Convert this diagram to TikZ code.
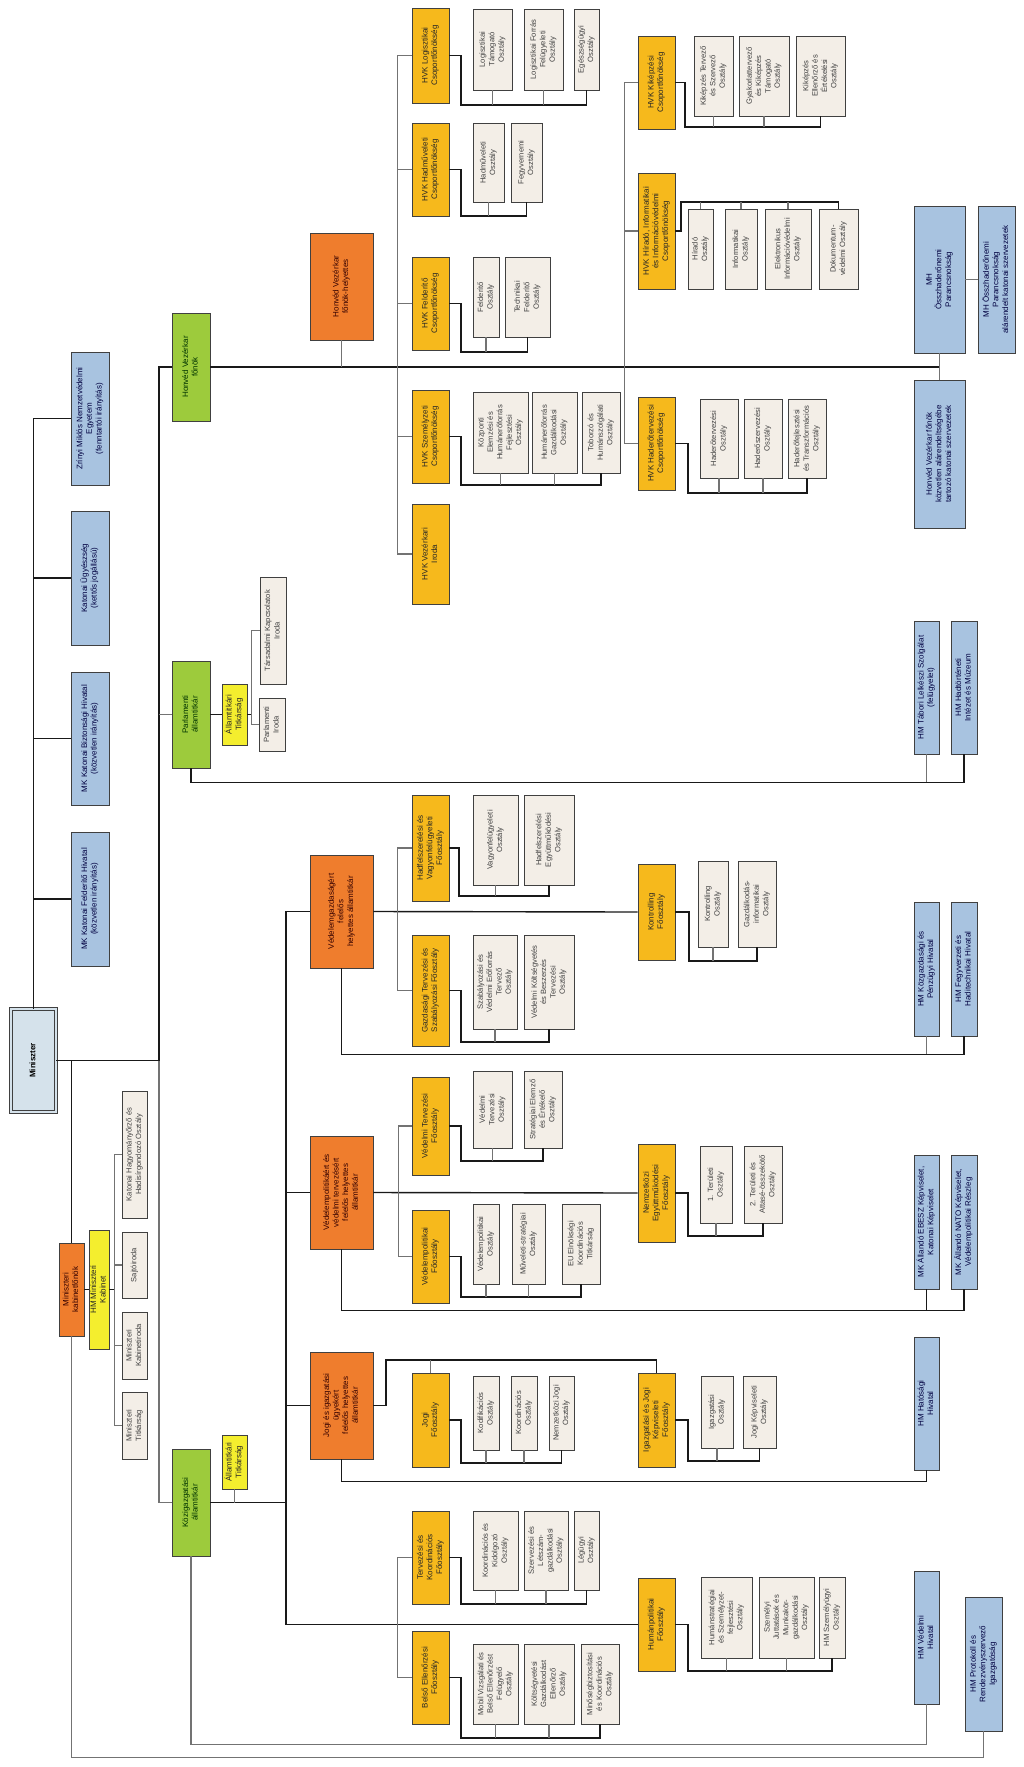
\documentclass[tikz,border=0pt]{standalone}
\usepackage{fontspec}
\setmainfont{Liberation Sans}

\definecolor{osztfill}{HTML}{F3EEE7}
\definecolor{fofill}{HTML}{F6B91C}
\definecolor{helyfill}{HTML}{EF7D2D}
\definecolor{kulsofill}{HTML}{A8C3E0}
\definecolor{atfill}{HTML}{9DCB3C}
\definecolor{titkfill}{HTML}{F4EE2E}
\definecolor{minfill}{HTML}{D5E2EB}

% text of a box, turned to read bottom-up
\newcommand{\rt}[1]{\rotatebox{90}{\begin{tabular}{@{}c@{}}#1\end{tabular}}}

\begin{document}
\begin{tikzpicture}[
  x=1pt, y=-1pt,
  font=\fontsize{8}{9.6}\selectfont,
  % box from its two corners (left,top) (right,bottom)
  spot/.style n args={4}{at={({(#1+#3)/2},{(#2+#4)/2})}, minimum width={(#3-#1)*1pt}, minimum height={(#4-#2)*1pt}},
  unit/.style={draw=black!75, line width=0.9pt, inner sep=0pt},
  oszt/.style={unit, fill=osztfill, text=black!75, font=\fontsize{7.6}{9.4}\selectfont},
  fooszt/.style={unit, fill=fofill, text=black!85},
  helyettes/.style={unit, fill=helyfill, text=black!80!red},
  kulso/.style={unit, fill=kulsofill, text=blue!25!black},
  allamtitk/.style={unit, fill=atfill, text=green!20!black},
  titk/.style={unit, fill=titkfill, text=black!85},
  minbox/.style={unit, fill=minfill, double=minfill, double distance=2.5pt},
  main/.style={line width=1.4pt, black!90},
  link/.style={line width=1.1pt, black!55}
]
\fill[white] (0,0) rectangle (1024,1767);
\useasboundingbox (0,0) rectangle (1024,1767);

%% miniszter and the left column
\node[minbox, spot={11}{1009}{56}{1112}] (min) {\rt{\textbf{Miniszter}}};
\node[kulso, spot={71}{352}{109}{485}] (zme) {\rt{Zrínyi Miklós Nemzetvédelmi\\Egyetem\\(fenntartói irányítás)}};
\node[kulso, spot={71}{511}{109}{645}] (kug) {\rt{Katonai Ügyészség\\(kettős jogállású)}};
\node[kulso, spot={71}{672}{109}{805}] (kbh) {\rt{MK Katonai Biztonsági Hivatal\\(közvetlen irányítás)}};
\node[kulso, spot={71}{832}{109}{966}] (kfh) {\rt{MK Katonai Felderítő Hivatal\\(közvetlen irányítás)}};
\node[helyettes, spot={59}{1243}{84}{1336}] (kab) {\rt{Miniszteri\\kabinetfőnök}};
\node[titk, spot={89}{1230}{109}{1349}] (kabt) {\rt{HM Miniszteri\\Kabinet}};
\node[oszt, spot={122}{1091}{147}{1218}] (hagy) {\rt{Katonai Hagyományőrző és\\Hadisírgondozó Osztály}};
\node[oszt, spot={122}{1232}{147}{1298}] (sajto) {\rt{Sajtóiroda}};
\node[oszt, spot={122}{1312}{147}{1379}] (kiroda) {\rt{Miniszteri\\Kabinetiroda}};
\node[oszt, spot={122}{1392}{147}{1459}] (mtitk) {\rt{Miniszteri\\Titkárság}};

%% államtitkárok
\node[allamtitk, spot={172}{313}{210}{421}] (hvkf) {\rt{Honvéd Vezérkar\\főnök}};
\node[allamtitk, spot={172}{661}{210}{768}] (parl) {\rt{Parlamenti\\államtitkár}};
\node[allamtitk, spot={172}{1449}{210}{1556}] (kozig) {\rt{Közigazgatási\\államtitkár}};
\node[titk, spot={222}{684}{247}{745}] (ptitk) {\rt{Államtitkári\\Titkárság}};
\node[titk, spot={222}{1435}{247}{1489}] (ktitk) {\rt{Államtitkári\\Titkárság}};
\node[oszt, spot={260}{577}{286}{684}] (tarsk) {\rt{Társadalmi Kapcsolatok\\Iroda}};
\node[oszt, spot={259}{698}{285}{751}] (pirod) {\rt{Parlamenti\\Iroda}};

%% helyettesek
\node[helyettes, spot={310}{233}{373}{340}] (fhely) {\rt{Honvéd Vezérkar\\főnök-helyettes}};
\node[helyettes, spot={310}{855}{373}{968}] (vg) {\rt{Védelemgazdaságért\\felelős\\helyettes államtitkár}};
\node[helyettes, spot={310}{1136}{373}{1249}] (vp) {\rt{Védelempolitikáért és\\védelmi tervezésért\\felelős helyettes\\államtitkár}};
\node[helyettes, spot={310}{1352}{373}{1459}] (jog) {\rt{Jogi és igazgatási\\ügyekért\\felelős helyettes\\államtitkár}};

%% HVK csoportfőnökségek
\node[fooszt, spot={412}{8}{449}{103}] (hvklog) {\rt{HVK Logisztikai\\Csoportfőnökség}};
\node[fooszt, spot={412}{123}{449}{216}] (hvkhad) {\rt{HVK Hadműveleti\\Csoportfőnökség}};
\node[fooszt, spot={412}{257}{449}{350}] (hvkfel) {\rt{HVK Felderítő\\Csoportfőnökség}};
\node[fooszt, spot={412}{390}{449}{483}] (hvkszem) {\rt{HVK Személyzeti\\Csoportfőnökség}};
\node[fooszt, spot={412}{504}{449}{604}] (hvkiroda) {\rt{HVK Vezérkari\\Iroda}};
\node[fooszt, spot={638}{36}{675}{129}] (hvkkik) {\rt{HVK Kiképzési\\Csoportfőnökség}};
\node[fooszt, spot={638}{173}{675}{289}] (hvkhir) {\rt{HVK Híradó, Informatikai\\és Információvédelmi\\Csoportfőnökség}};
\node[fooszt, spot={638}{397}{675}{490}] (hvkhdt) {\rt{HVK Haderőtervezési\\Csoportfőnökség}};

%% HVK osztályok
\node[oszt, spot={473}{9}{512}{90}] (lt) {\rt{Logisztikai\\Támogató\\Osztály}};
\node[oszt, spot={524}{9}{563}{90}] (lf) {\rt{Logisztikai Forrás\\Felügyeleti\\Osztály}};
\node[oszt, spot={574}{9}{599}{90}] (egu) {\rt{Egészségügyi\\Osztály}};
\node[oszt, spot={473}{123}{504}{202}] (hmo) {\rt{Hadműveleti\\Osztály}};
\node[oszt, spot={511}{123}{542}{202}] (fno) {\rt{Fegyvernemi\\Osztály}};
\node[oszt, spot={473}{257}{499}{337}] (fo) {\rt{Felderítő\\Osztály}};
\node[oszt, spot={505}{257}{550}{337}] (tfo) {\rt{Technikai\\Felderítő\\Osztály}};
\node[oszt, spot={473}{392}{528}{473}] (keho) {\rt{Központi\\Elemzési és\\Humánerőforrás\\Fejlesztési\\Osztály}};
\node[oszt, spot={532}{392}{577}{473}] (hgo) {\rt{Humánerőforrás\\Gazdálkodási\\Osztály}};
\node[oszt, spot={582}{392}{620}{473}] (tho) {\rt{Toborzó és\\Humánszolgálati\\Osztály}};
\node[oszt, spot={694}{36}{733}{116}] (kto) {\rt{Kiképzés Tervező\\és Szervező\\Osztály}};
\node[oszt, spot={739}{36}{789}{116}] (gyo) {\rt{Gyakorlattervező\\és Kiképzés\\Támogató\\Osztály}};
\node[oszt, spot={796}{36}{845}{116}] (keo) {\rt{Kiképzés\\Ellenőrző és\\Értékelési\\Osztály}};
\node[oszt, spot={688}{209}{713}{289}] (hio) {\rt{Híradó\\Osztály}};
\node[oszt, spot={725}{209}{757}{289}] (info) {\rt{Informatikai\\Osztály}};
\node[oszt, spot={765}{209}{811}{289}] (evo) {\rt{Elektronikus\\Információvédelmi\\Osztály}};
\node[oszt, spot={819}{209}{858}{289}] (dvo) {\rt{Dokumentum-\\védelmi Osztály}};
\node[oszt, spot={700}{399}{738}{478}] (hto) {\rt{Haderőtervezési\\Osztály}};
\node[oszt, spot={744}{399}{782}{478}] (hso) {\rt{Haderőszervezési\\Osztály}};
\node[oszt, spot={788}{399}{826}{478}] (hfo) {\rt{Haderőfejlesztési\\és Transzformációs\\Osztály}};

%% minisztériumi főosztályok
\node[fooszt, spot={412}{795}{449}{901}] (hadf) {\rt{Hadfelszerelési és\\Vagyonfelügyeleti\\Főosztály}};
\node[fooszt, spot={412}{935}{449}{1046}] (gazd) {\rt{Gazdasági Tervezési és\\Szabályozási Főosztály}};
\node[fooszt, spot={412}{1077}{449}{1175}] (vtf) {\rt{Védelmi Tervezési\\Főosztály}};
\node[fooszt, spot={412}{1210}{449}{1303}] (vpf) {\rt{Védelempolitikai\\Főosztály}};
\node[fooszt, spot={412}{1373}{449}{1467}] (jf) {\rt{Jogi\\Főosztály}};
\node[fooszt, spot={412}{1511}{449}{1604}] (tkf) {\rt{Tervezési és\\Koordinációs\\Főosztály}};
\node[fooszt, spot={412}{1631}{449}{1724}] (bef) {\rt{Belső Ellenőrzési\\Főosztály}};
\node[fooszt, spot={638}{864}{675}{960}] (kontr) {\rt{Kontrolling\\Főosztály}};
\node[fooszt, spot={638}{1144}{675}{1242}] (nemz) {\rt{Nemzetközi\\Együttműködési\\Főosztály}};
\node[fooszt, spot={638}{1373}{675}{1467}] (igf) {\rt{Igazgatási és Jogi\\Képviseleti\\Főosztály}};
\node[fooszt, spot={638}{1578}{675}{1671}] (human) {\rt{Humánpolitikai\\Főosztály}};

%% minisztériumi osztályok
\node[oszt, spot={473}{795}{518}{885}] (vfo) {\rt{Vagyonfelügyeleti\\Osztály}};
\node[oszt, spot={524}{795}{574}{885}] (heo) {\rt{Hadfelszerelési\\Együttműködési\\Osztály}};
\node[oszt, spot={473}{935}{517}{1029}] (sveo) {\rt{Szabályozási és\\Védelmi Erőforrás\\Tervező\\Osztály}};
\node[oszt, spot={524}{935}{574}{1029}] (vkbo) {\rt{Védelmi Költségvetés\\és Beszerzés\\Tervezési\\Osztály}};
\node[oszt, spot={698}{861}{728}{947}] (ko) {\rt{Kontrolling\\Osztály}};
\node[oszt, spot={738}{861}{776}{947}] (gio) {\rt{Gazdálkodás-\\informatikai\\Osztály}};
\node[oszt, spot={473}{1071}{512}{1148}] (vto) {\rt{Védelmi\\Tervezési\\Osztály}};
\node[oszt, spot={524}{1071}{562}{1148}] (seo) {\rt{Stratégiai Elemző\\és Értékelő\\Osztály}};
\node[oszt, spot={473}{1204}{499}{1284}] (vpo) {\rt{Védelempolitikai\\Osztály}};
\node[oszt, spot={512}{1204}{545}{1284}] (mso) {\rt{Műveleti-stratégiai\\Osztály}};
\node[oszt, spot={562}{1204}{600}{1284}] (eut) {\rt{EU Elnökségi\\Koordinációs\\Titkárság}};
\node[oszt, spot={700}{1146}{732}{1223}] (t1o) {\rt{1. Területi\\Osztály}};
\node[oszt, spot={744}{1146}{782}{1223}] (t2o) {\rt{2. Területi és\\Attasé-összekötő\\Osztály}};
\node[oszt, spot={473}{1376}{499}{1450}] (kodo) {\rt{Kodifikációs\\Osztály}};
\node[oszt, spot={511}{1376}{537}{1450}] (kooro) {\rt{Koordinációs\\Osztály}};
\node[oszt, spot={549}{1376}{574}{1450}] (njo) {\rt{Nemzetközi Jogi\\Osztály}};
\node[oszt, spot={701}{1376}{733}{1448}] (igo) {\rt{Igazgatási\\Osztály}};
\node[oszt, spot={743}{1376}{776}{1448}] (jko) {\rt{Jogi Képviseleti\\Osztály}};
\node[oszt, spot={473}{1511}{518}{1590}] (kko) {\rt{Koordinációs és\\Kidolgozó\\Osztály}};
\node[oszt, spot={524}{1511}{568}{1590}] (szlo) {\rt{Szervezési és\\Létszám-\\gazdálkodási\\Osztály}};
\node[oszt, spot={574}{1511}{599}{1590}] (lego) {\rt{Légügyi\\Osztály}};
\node[oszt, spot={473}{1644}{518}{1724}] (mvo) {\rt{Mobil Vizsgálati és\\Belső Ellenőrzést\\Felügyelő\\Osztály}};
\node[oszt, spot={524}{1644}{574}{1724}] (kgeo) {\rt{Költségvetési\\Gazdálkodást\\Ellenőrző\\Osztály}};
\node[oszt, spot={581}{1644}{619}{1724}] (mbo) {\rt{Minőségbiztosítási\\és Koordinációs\\Osztály}};
\node[oszt, spot={701}{1577}{752}{1658}] (hszo) {\rt{Humánstratégiai\\és Személyzet-\\fejlesztési\\Osztály}};
\node[oszt, spot={759}{1577}{814}{1658}] (szjo) {\rt{Személyi\\Juttatások és\\Munkakör-\\gazdálkodási\\Osztály}};
\node[oszt, spot={819}{1577}{845}{1658}] (hmszo) {\rt{HM Személyügyi\\Osztály}};

%% külső szervezetek
\node[kulso, spot={914}{206}{965}{353}] (mhop) {\rt{MH\\Összhaderőnemi\\Parancsnokság}};
\node[kulso, spot={978}{206}{1015}{353}] (mhal) {\rt{MH Összhaderőnemi\\Parancsnokság\\alárendelt katonai szervezetek}};
\node[kulso, spot={914}{380}{965}{528}] (kozv) {\rt{Honvéd Vezérkar főnök\\közvetlen alárendeltségébe\\tartozó katonai szervezetek}};
\node[kulso, spot={914}{621}{939}{754}] (tabori) {\rt{HM Tábori Lelkészi Szolgálat\\(felügyelet)}};
\node[kulso, spot={951}{621}{977}{754}] (hadt) {\rt{HM Hadtörténeti\\Intézet és Múzeum}};
\node[kulso, spot={914}{902}{939}{1036}] (kozg) {\rt{HM Közgazdasági és\\Pénzügyi Hivatal}};
\node[kulso, spot={951}{902}{977}{1036}] (fegyv) {\rt{HM Fegyverzeti és\\Haditechnikai Hivatal}};
\node[kulso, spot={914}{1155}{939}{1289}] (ebesz) {\rt{MK Állandó EBESZ Képviselet,\\Katonai Képviselet}};
\node[kulso, spot={951}{1155}{977}{1289}] (nato) {\rt{MK Állandó NATO Képviselet,\\Védelempolitikai Részleg}};
\node[kulso, spot={914}{1337}{939}{1470}] (hatosag) {\rt{HM Hatósági\\Hivatal}};
\node[kulso, spot={914}{1571}{939}{1704}] (vedhiv) {\rt{HM Védelmi\\Hivatal}};
\node[kulso, spot={965}{1597}{1002}{1731}] (prot) {\rt{HM Protokoll és\\Rendezvényszervező\\Igazgatóság}};

%% bus points
\coordinate (spine) at (159,1060.5);
\coordinate (vbus) at (286,1502.5);
\coordinate (jogbus) at (386,1360);
\coordinate (logbus) at (461,105);
\coordinate (hadbus) at (461,216);
\coordinate (felbus) at (461,352);
\coordinate (szembus) at (461,485);
\coordinate (kikbus) at (685,127);
\coordinate (hirbus) at (681,202);
\coordinate (hdtbus) at (688,493);
\coordinate (hadfbus) at (459,896);
\coordinate (gazdbus) at (461,1042);
\coordinate (kontrbus) at (689,961);
\coordinate (vtfbus) at (461,1161);
\coordinate (vpfbus) at (461,1297);
\coordinate (nemzbus) at (688,1236);
\coordinate (jfbus) at (461,1463);
\coordinate (igfbus) at (688,1461);
\coordinate (tkfbus) at (461,1604);
\coordinate (befbus) at (461,1738);
\coordinate (humbus) at (688,1671);

%% miniszter
\draw[main] (min.north) |- (zme.west);
\draw[main] (min.north |- kug.west) -- (kug.west);
\draw[main] (min.north |- kbh.west) -- (kbh.west);
\draw[main] (min.north |- kfh.west) -- (kfh.west);
\draw[main] (min.east) -- (spine);
\draw[main] (spine) |- (hvkf.west);
\draw[link] (spine) |- (kozig.west);
\draw[link] (spine |- parl.west) -- (parl.west);
\draw[main] (kab.north) -- (kab.north |- min.east);
\draw[main] (kab.east) -- (kabt.west);
\draw[main] (kabt.east) -- ++(6,0);
\draw[link] (hagy.west) -- ++(-7,0) |- (mtitk.west);
\draw[link] (sajto.west) -- ++(-7,0);
\draw[link] (kiroda.west) -- ++(-7,0);
\draw[link] (kab.south) -- ++(0,421) -| (prot.south);

%% parlamenti államtitkár
\draw[main] (parl.east) -- (ptitk.west);
\draw[main] (ptitk.east) -- ++(5,0);
\draw[link] (tarsk.west) -- ++(-8,0) |- (pirod.west);
\draw[main] (parl.south) -- ++(0,14) -| (hadt.south);
\draw[link] (tabori.south) -- ++(0,28);

%% honvéd vezérkar
\draw[main] (hvkf.east) -| (mhop.south);
\draw[link] (mhop.south) -- (kozv.north);
\draw[link] (mhop.east) -- (mhal.west);
\draw[link] (fhely.south) -- (fhely.south |- hvkf.east);
\draw[link] (hvklog.west) -- ++(-14,0) |- (hvkiroda.west);
\draw[link] (hvkhad.west) -- ++(-14,0);
\draw[link] (hvkfel.west) -- ++(-14,0);
\draw[link] (hvkszem.west) -- ++(-14,0);
\draw[link] (hvkkik.west) -- ++(-13,0) |- (hvkhdt.west);
\draw[link] (hvkhir.west) -- ++(-13,0);

\draw[main] (hvklog.east) -| (logbus) -| (egu.south);
\draw[link] (lt.south) -- (lt.south |- logbus);
\draw[link] (lf.south) -- (lf.south |- logbus);
\draw[main] (hvkhad.east) -| (hadbus) -| (fno.south);
\draw[link] (hmo.south) -- (hmo.south |- hadbus);
\draw[main] (hvkfel.east) -| (felbus) -| (tfo.south);
\draw[link] (fo.south) -- (fo.south |- felbus);
\draw[main] (hvkszem.east) -| (szembus) -| (tho.south);
\draw[link] (keho.south) -- (keho.south |- szembus);
\draw[link] (hgo.south) -- (hgo.south |- szembus);
\draw[main] (hvkkik.east) -| (kikbus) -| (keo.south);
\draw[link] (kto.south) -- (kto.south |- kikbus);
\draw[link] (gyo.south) -- (gyo.south |- kikbus);
\draw[main] (hvkhir.east) -| (hirbus) -| (dvo.north);
\draw[link] (hio.north) -- (hio.north |- hirbus);
\draw[link] (info.north) -- (info.north |- hirbus);
\draw[link] (evo.north) -- (evo.north |- hirbus);
\draw[main] (hvkhdt.east) -| (hdtbus) -| (hfo.south);
\draw[link] (hto.south) -- (hto.south |- hdtbus);
\draw[link] (hso.south) -- (hso.south |- hdtbus);

%% közigazgatási államtitkár
\draw[main] (kozig.east) -- (vbus);
\draw[link] (ktitk.south) -- (ktitk.south |- kozig.east);
\draw[main] (vg.west) -| (vbus) |- (human.west);
\draw[main] (vp.west) -- (vp.west -| vbus);
\draw[main] (jog.west) -- (jog.west -| vbus);
\draw[link] (kozig.south) -- ++(0,188) -| (vedhiv.south);
\draw[link] (tkf.west) -- ++(-14,0) |- (bef.west);

% védelemgazdaság
\draw[main] (vg.east) -- (kontr.west);
\draw[link] (hadf.west) -- ++(-14,0) |- (gazd.west);
\draw[main] (vg.south) -- ++(0,86) -| (fegyv.south);
\draw[link] (kozg.south) -- ++(0,18);
\draw[main] (hadf.east) -| (hadfbus) -| (heo.south);
\draw[link] (vfo.south) -- (vfo.south |- hadfbus);
\draw[main] (gazd.east) -| (gazdbus) -| (vkbo.south);
\draw[link] (sveo.south) -- (sveo.south |- gazdbus);
\draw[main] (kontr.east) -| (kontrbus) -| (gio.south);
\draw[link] (ko.south) -- (ko.south |- kontrbus);

% védelempolitika
\draw[main] (vp.east) -- (nemz.west);
\draw[link] (vtf.west) -- ++(-13,0) |- (vpf.west);
\draw[main] (vp.south) -- ++(0,61) -| (nato.south);
\draw[main] (ebesz.south) -- ++(0,21);
\draw[main] (vtf.east) -| (vtfbus) -| (seo.south);
\draw[link] (vto.south) -- (vto.south |- vtfbus);
\draw[main] (vpf.east) -| (vpfbus) -| (eut.south);
\draw[link] (vpo.south) -- (vpo.south |- vpfbus);
\draw[link] (mso.south) -- (mso.south |- vpfbus);
\draw[main] (nemz.east) -| (nemzbus) -| (t2o.south);
\draw[link] (t1o.south) -- (t1o.south |- nemzbus);

% jogi és igazgatási
\draw[main] (jog.east) -| (jogbus) -| (igf.north);
\draw[link] (jf.north) -- (jf.north |- jogbus);
\draw[main] (jog.south) -- ++(0,22) -| (hatosag.south);
\draw[main] (jf.east) -| (jfbus) -| (njo.south);
\draw[link] (kodo.south) -- (kodo.south |- jfbus);
\draw[link] (kooro.south) -- (kooro.south |- jfbus);
\draw[main] (igf.east) -| (igfbus) -| (jko.south);
\draw[link] (igo.south) -- (igo.south |- igfbus);

% közvetlen főosztályok
\draw[main] (tkf.east) -| (tkfbus) -| (lego.south);
\draw[link] (kko.south) -- (kko.south |- tkfbus);
\draw[link] (szlo.south) -- (szlo.south |- tkfbus);
\draw[main] (bef.east) -| (befbus) -| (mbo.south);
\draw[link] (mvo.south) -- (mvo.south |- befbus);
\draw[link] (kgeo.south) -- (kgeo.south |- befbus);
\draw[main] (human.east) -| (humbus) -| (hmszo.south);
\draw[link] (hszo.south) -- (hszo.south |- humbus);
\draw[link] (szjo.south) -- (szjo.south |- humbus);

\end{tikzpicture}
\end{document}
